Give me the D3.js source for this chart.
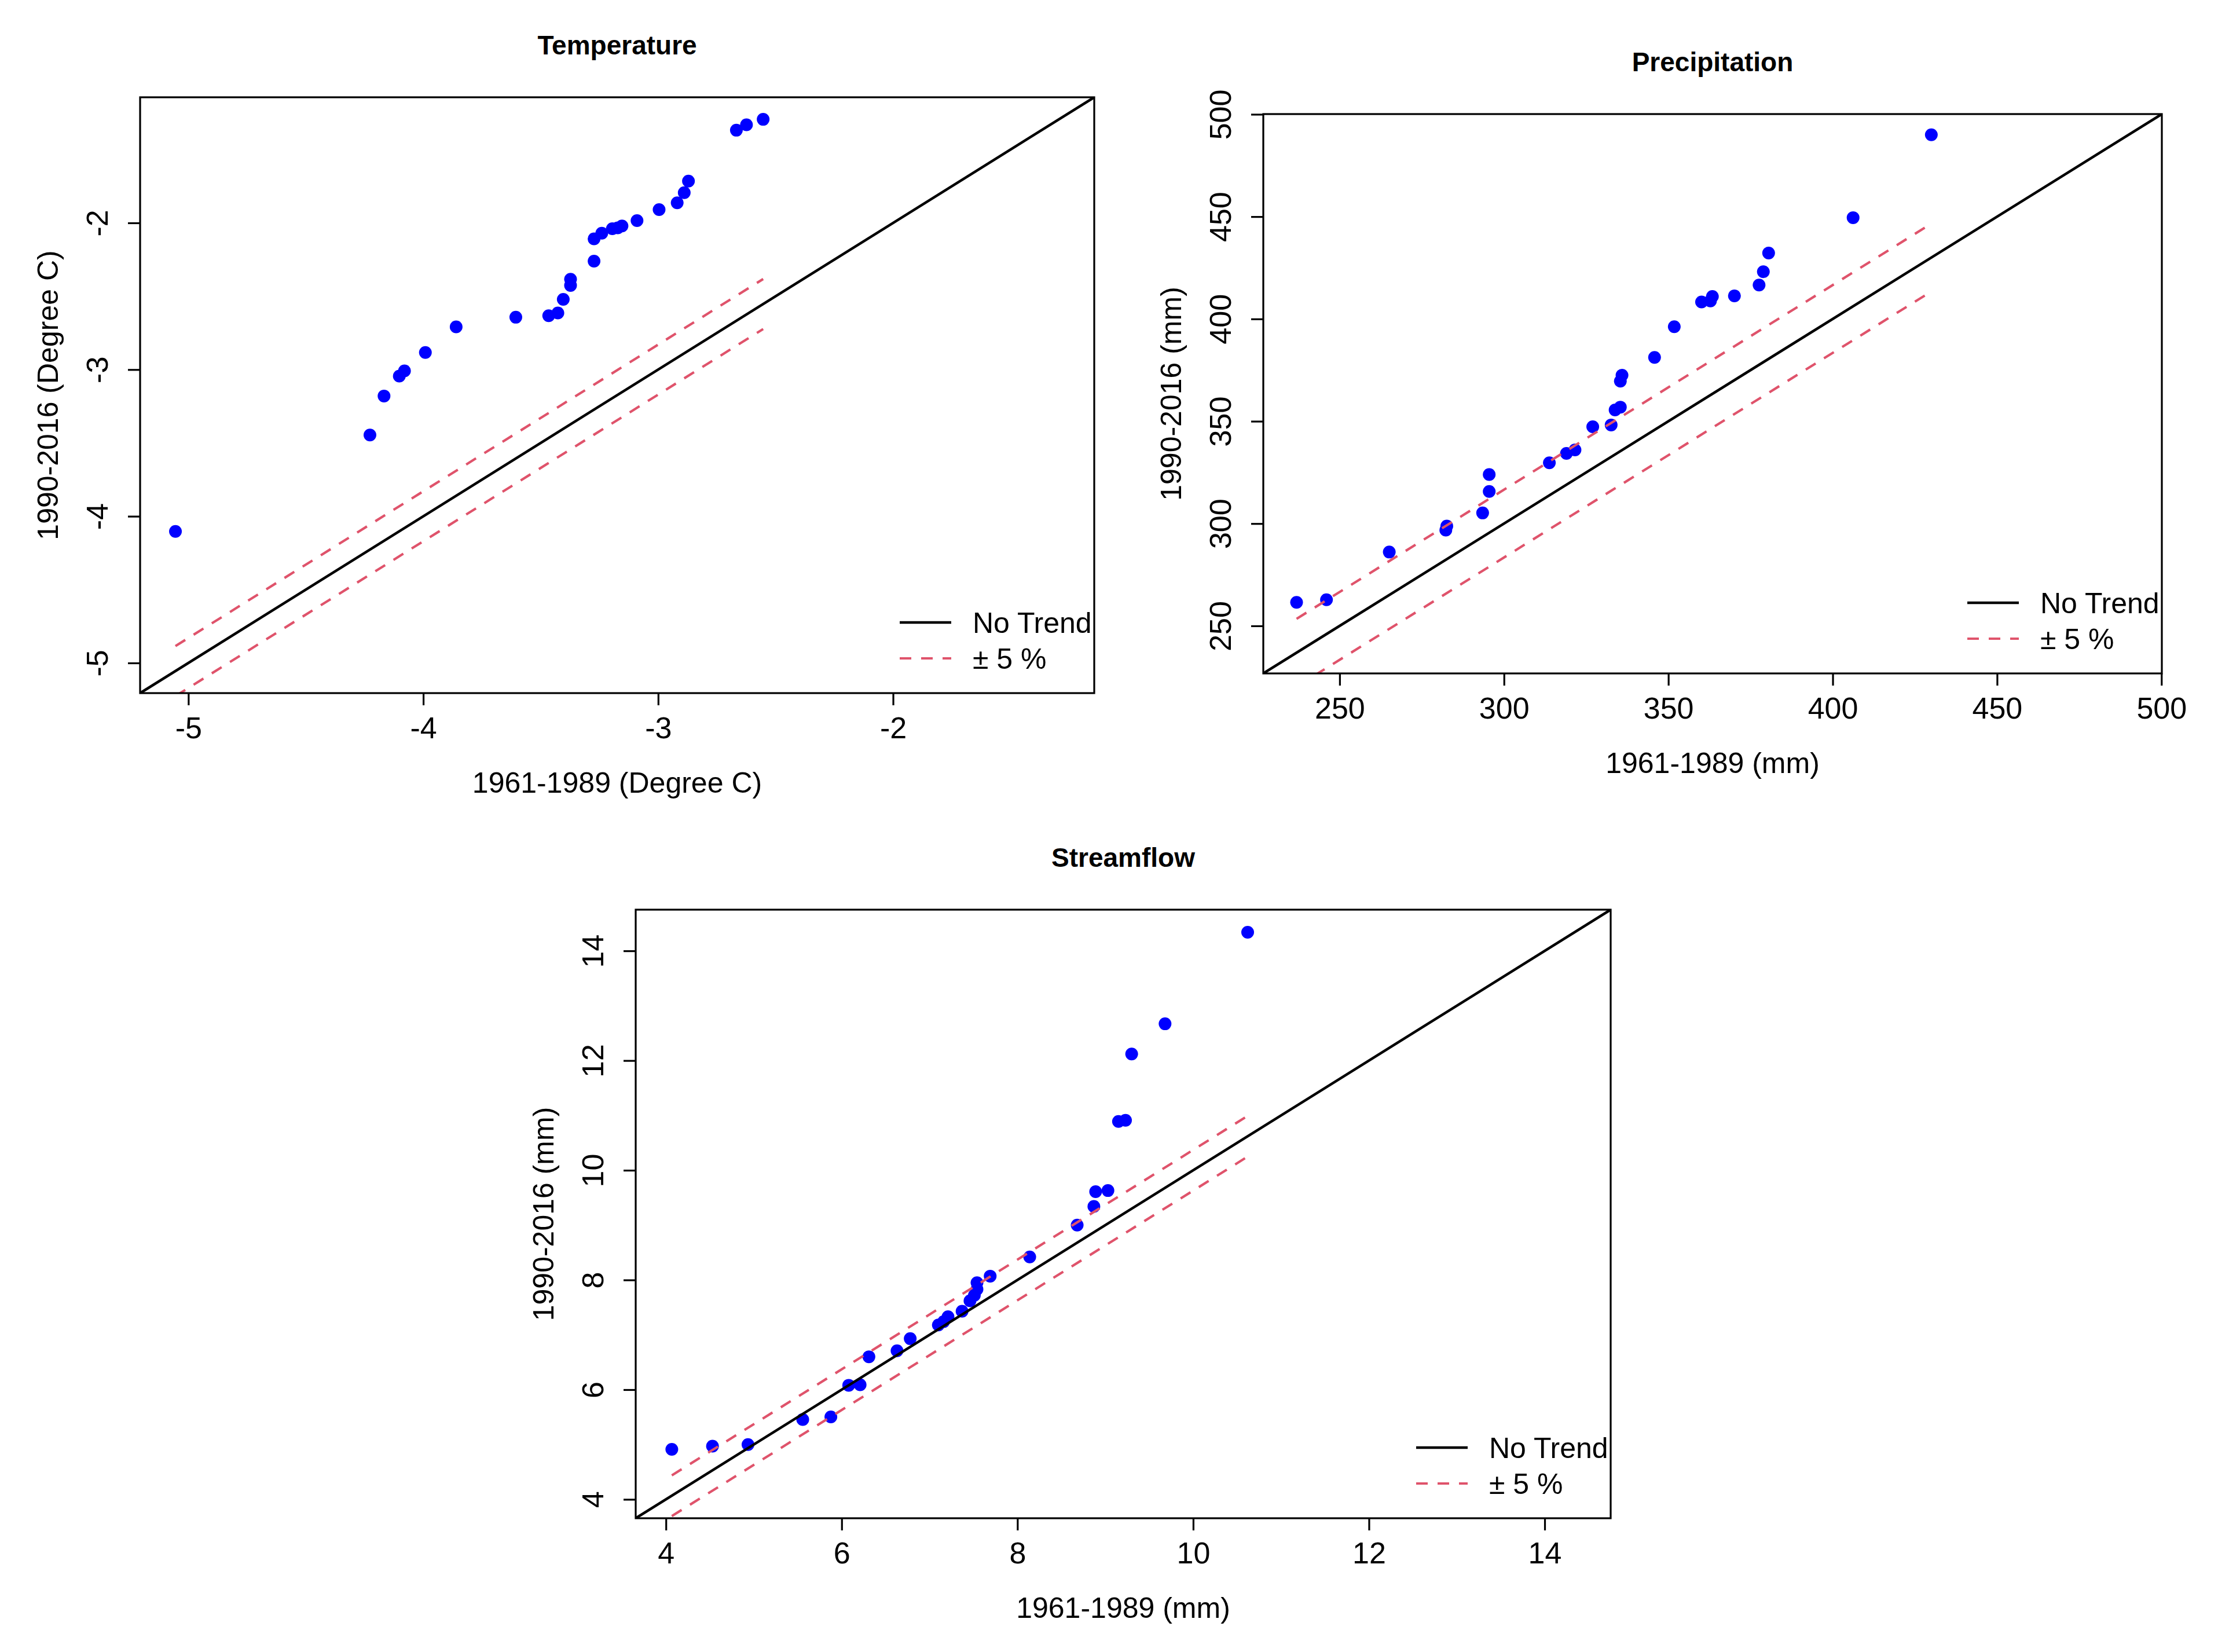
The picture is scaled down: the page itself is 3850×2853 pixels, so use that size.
<!DOCTYPE html>
<html>
<head>
<meta charset="utf-8">
<script src="https://cdn.jsdelivr.net/npm/d3@7"></script>
<style>
body { margin: 0; background: #fff; }
text { font-family: "Liberation Sans", Arial, sans-serif; fill: #000; }
</style>
</head>
<body>
<svg id="chart" width="3850" height="2853"></svg>
<script>
// Q-Q values (x = 1961-1989, y = 1990-2016)
const tempX = [-5.055, -4.227, -4.167, -4.102, -4.080, -3.991, -3.860, -3.606, -3.466, -3.427,
  -3.404, -3.373, -3.373, -3.273, -3.273, -3.240, -3.195, -3.172, -3.154, -3.090,
  -2.996, -2.919, -2.889, -2.871, -2.667, -2.624, -2.553];
const tempY = [-4.103, -3.446, -3.180, -3.044, -3.009, -2.883, -2.709, -2.643, -2.633, -2.614,
  -2.521, -2.426, -2.384, -2.261, -2.109, -2.070, -2.040, -2.034, -2.021, -1.984,
  -1.909, -1.863, -1.794, -1.715, -1.368, -1.331, -1.294];

const precipX = [236.9, 246.0, 265.1, 282.3, 282.6, 293.5, 295.5, 295.5, 313.8, 319.0,
  321.6, 327.0, 332.6, 333.8, 335.4, 335.4, 335.9, 345.8, 351.8, 360.1,
  362.8, 363.4, 370.1, 377.6, 378.9, 380.5, 406.2, 430.0];
const precipY = [261.5, 262.8, 286.1, 296.8, 298.8, 305.2, 315.7, 324.0, 329.7, 334.3,
  336.0, 347.3, 348.2, 355.5, 356.9, 369.6, 372.5, 381.2, 396.2, 408.3,
  408.8, 411.0, 411.3, 416.6, 423.1, 432.2, 449.5, 490.0];

const flowX = [4.067, 4.530, 4.934, 5.557, 5.877, 6.08, 6.21, 6.31, 6.63, 6.78,
  7.10, 7.16, 7.21, 7.37, 7.46, 7.51, 7.54, 7.54, 7.69, 8.14,
  8.68, 8.87, 8.89, 9.03, 9.15, 9.23, 9.30, 9.68, 10.62];
const flowY = [4.912, 4.970, 4.999, 5.455, 5.503, 6.08, 6.09, 6.60, 6.71, 6.93,
  7.18, 7.24, 7.33, 7.43, 7.62, 7.72, 7.83, 7.95, 8.07, 8.42,
  9.00, 9.34, 9.61, 9.63, 10.89, 10.91, 12.12, 12.67, 14.34];

// tick labels
const tempTicks = [-5, -4, -3, -2];
const precipTicks = [250, 300, 350, 400, 450, 500];
const flowTicks = [4, 6, 8, 10, 12, 14];

const legendLabels = ["No Trend", "\u00B1 5 %"];
const bandShare = 0.05; // the +/- 5 % band

const svg = d3.select("#chart");
const red = "#DF536B";

function drawPanel(p) {
  const g = svg.append("g").attr("transform", `translate(${p.left},${p.top})`);

  // R style limits: common range of both series, widened by 4 %
  const lo = Math.min(d3.min(p.x), d3.min(p.y));
  const hi = Math.max(d3.max(p.x), d3.max(p.y));
  const pad = (hi - lo) * 0.04;

  const xScale = d3.scaleLinear().domain([lo - pad, hi + pad]).range([0, p.width]);
  const yScale = d3.scaleLinear().domain([lo - pad, hi + pad]).range([p.height, 0]);

  // clip for the plot region
  g.append("clipPath").attr("id", "clip-" + p.id)
    .append("rect").attr("width", p.width).attr("height", p.height);

  const plot = g.append("g").attr("clip-path", `url(#clip-${p.id})`);

  // points first, lines go over them
  plot.selectAll("circle")
    .data(p.x.map((d, i) => [d, p.y[i]]))
    .enter()
    .append("circle")
    .attr("cx", d => xScale(d[0]))
    .attr("cy", d => yScale(d[1]))
    .attr("r", 11)
    .attr("fill", "#0000FF");

  // 1:1 line across the whole panel
  const [d0, d1] = xScale.domain();
  plot.append("line")
    .attr("x1", xScale(d0)).attr("y1", yScale(d0))
    .attr("x2", xScale(d1)).attr("y2", yScale(d1))
    .attr("stroke", "#000").attr("stroke-width", 4.5);

  // +/- 5 % of the mean, drawn over the data range
  const off = bandShare * Math.abs(d3.mean(p.x));
  const xmin = d3.min(p.x), xmax = d3.max(p.x);
  [off, -off].forEach(o => {
    plot.append("line")
      .attr("x1", xScale(xmin)).attr("y1", yScale(xmin + o))
      .attr("x2", xScale(xmax)).attr("y2", yScale(xmax + o))
      .attr("stroke", red).attr("stroke-width", 4.2)
      .attr("stroke-dasharray", "20,17");
  });

  // box
  g.append("rect")
    .attr("width", p.width).attr("height", p.height)
    .attr("fill", "none").attr("stroke", "#000").attr("stroke-width", 3.2);

  // x axis
  const xAxis = g.append("g")
    .attr("transform", `translate(0,${p.height})`)
    .call(d3.axisBottom(xScale).tickValues(p.ticks).tickSize(21).tickFormat(d3.format("d")));
  xAxis.select(".domain").remove();
  xAxis.selectAll("line").attr("stroke-width", 3.2);
  xAxis.selectAll("text")
    .attr("y", 60).attr("dy", "0.35em")
    .style("font-size", "52px")
    .style("font-family", "'Liberation Sans', Arial, sans-serif")
    .text(d => d < 0 ? "-" + Math.abs(d) : d);

  // y axis, labels turned like R does
  const yAxis = g.append("g")
    .call(d3.axisLeft(yScale).tickValues(p.ticks).tickSize(21));
  yAxis.select(".domain").remove();
  yAxis.selectAll("line").attr("stroke-width", 3.2);
  yAxis.selectAll("text")
    .attr("x", 0).attr("y", -74).attr("dy", "0.35em")
    .attr("transform", "rotate(-90)")
    .attr("text-anchor", "middle")
    .style("font-size", "52px")
    .style("font-family", "'Liberation Sans', Arial, sans-serif")
    .text(d => d < 0 ? "-" + Math.abs(d) : d);

  // title
  g.append("text")
    .attr("x", p.width / 2).attr("y", -90).attr("dy", "0.35em")
    .attr("text-anchor", "middle")
    .style("font-size", "46px").style("font-weight", "bold")
    .text(p.title);

  // axis labels
  g.append("text")
    .attr("x", p.width / 2).attr("y", p.height + 154).attr("dy", "0.35em")
    .attr("text-anchor", "middle")
    .style("font-size", "50px")
    .text(p.xLabel);

  g.append("text")
    .attr("transform", `translate(-160,${p.height / 2}) rotate(-90)`)
    .attr("dy", "0.35em")
    .attr("text-anchor", "middle")
    .style("font-size", "50px")
    .text(p.yLabel);

  // legend, bottom right, no frame
  const lg = g.append("g").attr("transform", `translate(${p.width - 210},${p.height - 122})`);
  legendLabels.forEach((lab, i) => {
    const row = lg.append("g").attr("transform", `translate(0,${i * 62})`);
    row.append("line")
      .attr("x1", -126).attr("x2", -37)
      .attr("stroke", i === 0 ? "#000" : red)
      .attr("stroke-width", i === 0 ? 4.5 : 4.2)
      .attr("stroke-dasharray", i === 0 ? null : "20,17");
    row.append("text")
      .attr("x", 0).attr("dy", "0.35em")
      .style("font-size", "50px")
      .text(lab);
  });
}

drawPanel({
  id: "temp", title: "Temperature",
  xLabel: "1961-1989 (Degree C)", yLabel: "1990-2016 (Degree C)",
  x: tempX, y: tempY, ticks: tempTicks,
  left: 242, top: 168, width: 1648, height: 1029
});

drawPanel({
  id: "precip", title: "Precipitation",
  xLabel: "1961-1989 (mm)", yLabel: "1990-2016 (mm)",
  x: precipX, y: precipY, ticks: precipTicks,
  left: 2182, top: 197, width: 1552, height: 966
});

drawPanel({
  id: "flow", title: "Streamflow",
  xLabel: "1961-1989 (mm)", yLabel: "1990-2016 (mm)",
  x: flowX, y: flowY, ticks: flowTicks,
  left: 1098, top: 1571, width: 1684, height: 1051
});
</script>
</body>
</html>
